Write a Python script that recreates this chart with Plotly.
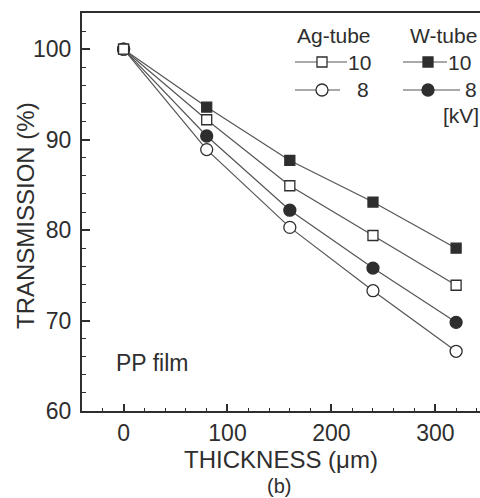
import plotly.graph_objects as go

# Film thickness (µm) and measured transmission (%) for each tube / voltage
thickness = [0, 80, 160, 240, 320]
ag_10kv = [100, 92.2, 84.9, 79.4, 73.9]
ag_8kv = [100, 88.9, 80.3, 73.3, 66.6]
w_10kv = [100, 93.6, 87.7, 83.1, 78.0]
w_8kv = [100, 90.4, 82.2, 75.8, 69.8]

x_ticks = [0, 100, 200, 300]
y_ticks = [60, 70, 80, 90, 100]

FONT = "Liberation Sans, Arial, sans-serif"
INK = "#2e2e2e"
LINE = "#555555"

W, H = 480, 498
L, R, T, B = 82, 0, 13, 87


def px_x(px):
    return (px - L) / (W - L - R)


def px_y(py):
    return (H - B - py) / (H - B - T)


fig = go.Figure()

series = [
    (w_10kv, "square", INK, "W-tube 10 kV", 10),
    (w_8kv, "circle", INK, "W-tube 8 kV", 12),
    (ag_8kv, "circle", "white", "Ag-tube 8 kV", 12),
    (ag_10kv, "square", "white", "Ag-tube 10 kV", 10),
]
for vals, sym, fill, name, size in series:
    fig.add_trace(go.Scatter(
        x=thickness, y=vals, mode="lines+markers", name=name,
        line=dict(color=LINE, width=1.2),
        marker=dict(symbol=sym, size=size, color=fill,
                    line=dict(color=INK, width=1.3)),
        showlegend=False,
    ))

# Hand-drawn key on an overlay axis spanning the plot area (0..1)
key_rows = [
    # line start, line end, marker x, row y, symbol, fill, size
    (295, 347, 322, 62, "square", "white", 10),
    (295, 340, 322, 90, "circle", "white", 12),
    (403, 447, 428, 62, "square", INK, 10),
    (403, 460, 428, 90, "circle", INK, 12),
]
for x0, x1, xm, yy, sym, fill, size in key_rows:
    fig.add_trace(go.Scatter(
        x=[px_x(x0), px_x(x1)], y=[px_y(yy)] * 2, mode="lines",
        line=dict(color=LINE, width=1.2), xaxis="x2", yaxis="y2",
        showlegend=False, hoverinfo="skip",
    ))
    fig.add_trace(go.Scatter(
        x=[px_x(xm)], y=[px_y(yy)], mode="markers",
        marker=dict(symbol=sym, size=size, color=fill,
                    line=dict(color=INK, width=1.3)),
        xaxis="x2", yaxis="y2", showlegend=False, hoverinfo="skip",
    ))

key_text = [
    ("Ag-tube", 334, 35),
    ("W-tube", 443, 35),
    ("10", 359, 62),
    ("8", 363, 89),
    ("10", 459, 62),
    ("8", 471, 89),
    ("[kV]", 461, 115),
]
annotations = []
for txt, xp, yp in key_text:
    annotations.append(dict(
        text=txt, x=px_x(xp), y=px_y(yp), xref="paper", yref="paper",
        xanchor="center", yanchor="middle", showarrow=False,
        font=dict(family=FONT, size=21, color=INK),
    ))

annotations.append(dict(
    text="PP film", x=px_x(114), y=px_y(363), xref="paper", yref="paper",
    xanchor="left", yanchor="middle", showarrow=False,
    font=dict(family=FONT, size=23, color=INK),
))
annotations.append(dict(
    text="(b)", x=px_x(279), y=px_y(486), xref="paper", yref="paper",
    xanchor="center", yanchor="middle", showarrow=False,
    font=dict(family=FONT, size=20, color=INK),
))
annotations.append(dict(
    text="TRANSMISSION (%)", x=px_x(25), y=px_y(216),
    xref="paper", yref="paper", textangle=-90,
    xanchor="center", yanchor="middle", showarrow=False,
    font=dict(family=FONT, size=24, color=INK),
))

axis_common = dict(
    showline=True, linecolor=INK, linewidth=2,
    ticks="inside", tickcolor=INK, tickwidth=1.5,
    showgrid=False, zeroline=False,
    tickfont=dict(family=FONT, size=23, color=INK),
)

fig.update_layout(
    width=W, height=H,
    margin=dict(l=L, r=R, t=T, b=B, pad=0),
    paper_bgcolor="white", plot_bgcolor="white",
    xaxis=dict(
        **axis_common, range=[-40, 343], tickvals=x_ticks, ticklen=7,
        mirror=True,
        minor=dict(dtick=20, tick0=0, ticks="inside", ticklen=3,
                   tickcolor=INK, tickwidth=1.2),
        title=dict(text="THICKNESS (μm)", standoff=2,
                   font=dict(family=FONT, size=24, color=INK)),
    ),
    yaxis=dict(
        **axis_common, range=[60, 104], tickvals=y_ticks, ticklen=8,
        minor=dict(dtick=2, tick0=60, ticks="inside", ticklen=4,
                   tickcolor=INK, tickwidth=1.2),
        ticklabelstandoff=4,
    ),
    xaxis2=dict(overlaying="x", range=[0, 1], visible=False, fixedrange=True),
    yaxis2=dict(overlaying="y", range=[0, 1], visible=False, fixedrange=True),
    annotations=annotations,
)

fig.write_html("out.html")
